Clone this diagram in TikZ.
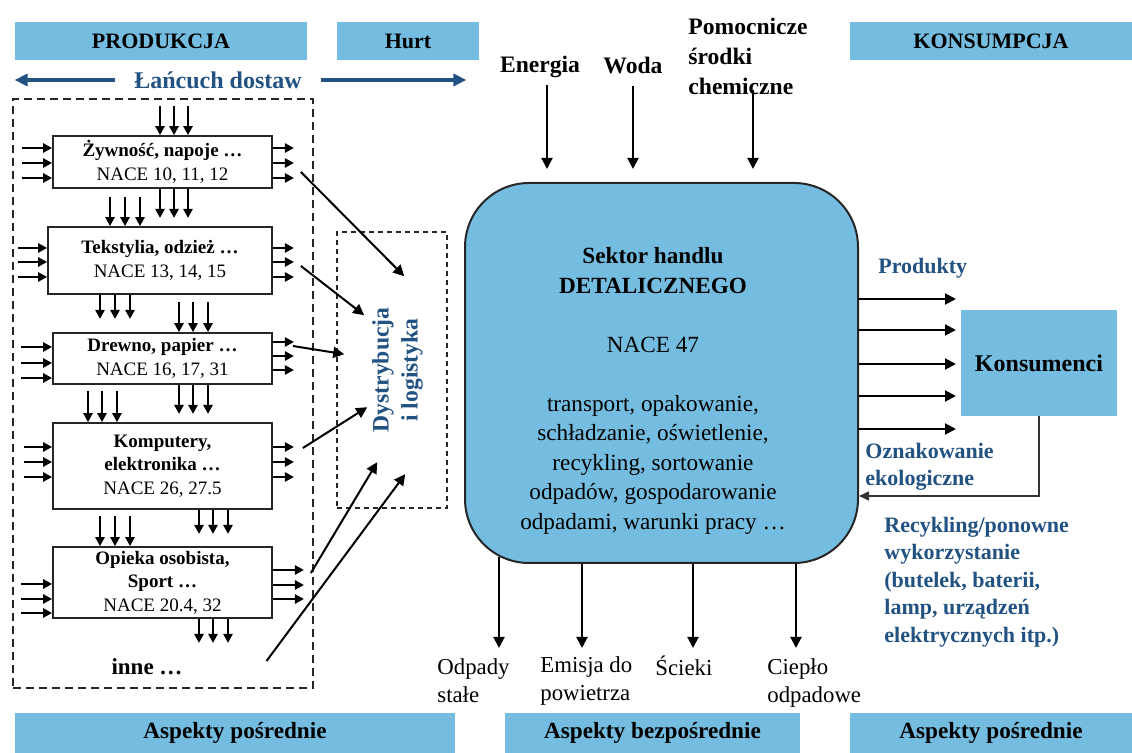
\documentclass[tikz,border=0pt]{standalone}
\usepackage{fontspec}
\setmainfont{Liberation Serif}
\usetikzlibrary{arrows.meta,calc}

\definecolor{barblue}{RGB}{116,189,224}
\definecolor{textblue}{RGB}{33,82,130}

\newcommand*{\HeadFont}{\fontsize{11}{13}\selectfont\bfseries}
\newcommand*{\FootFont}{\fontsize{11.6}{14}\selectfont\bfseries}
\newcommand*{\ChainFont}{\fontsize{12}{14}\selectfont\bfseries}
\newcommand*{\BoxFont}{\fontsize{9.5}{11.75}\selectfont}
\newcommand*{\InneFont}{\fontsize{11.5}{14}\selectfont\bfseries}
\newcommand*{\DystFont}{\fontsize{11.8}{14.5}\selectfont\bfseries}
\newcommand*{\MainFont}{\fontsize{11.6}{14.75}\selectfont}
\newcommand*{\TopFont}{\fontsize{11.8}{15}\selectfont\bfseries}
\newcommand*{\NoteFont}{\fontsize{11}{13.75}\selectfont\bfseries}
\newcommand*{\KonsFont}{\fontsize{12}{14}\selectfont\bfseries}
\newcommand*{\OutFont}{\fontsize{11.4}{14}\selectfont}

\newcommand*{\DrawTopArrows}[3]{%
    % #1 = box node
    % #2 = x positions as CSV
    % #3 = arrow length
    \foreach \X in {#2} {
        \draw [stub] (\X,0 |- #1.north) ++(0,-#3) -- (\X,0 |- #1.north);
    }
}
\newcommand*{\DrawBottomArrows}[3]{%
    % #1 = box node
    % #2 = x positions as CSV
    % #3 = arrow length
    \foreach \X in {#2} {
        \draw [stub] (\X,0 |- #1.south) -- ++(0,#3);
    }
}
\newcommand*{\DrawLeftArrows}[3]{%
    % #1 = box node
    % #2 = y positions as CSV
    % #3 = arrow length
    \foreach \Y in {#2} {
        \draw [stub] (#1.west |- 0,\Y) ++(-#3,0) -- (#1.west |- 0,\Y);
    }
}
\newcommand*{\DrawRightArrows}[3]{%
    % #1 = box node
    % #2 = y positions as CSV
    % #3 = arrow length
    \foreach \Y in {#2} {
        \draw [stub] (#1.east |- 0,\Y) -- ++(#3,0);
    }
}

\begin{document}
\begin{tikzpicture}[x=0.5pt, y=-0.5pt,
    bar/.style={fill=barblue, minimum height=19pt, inner sep=0pt, font=\HeadFont},
    sector/.style={draw=black!85, line width=0.9pt, inner sep=0pt, align=center,
        font=\BoxFont, minimum width=109.5pt},
    stub/.style={-{Triangle[length=4.5pt,width=4.6pt]}, line width=1.05pt},
    flow/.style={-{Triangle[length=5.5pt,width=5.5pt]}, line width=1pt},
    chain/.style={textblue, line width=1.6pt, -{Triangle[length=6.5pt,width=6pt]}},
    note/.style={textblue, font=\NoteFont, align=left, inner xsep=0pt}]

    \useasboundingbox (0,0) rectangle (1132,753);

    % header bars
    \node[bar, minimum width=146pt] (produkcja) at (161,41) {PRODUKCJA};
    \node[bar, minimum width=71pt] (hurt) at (408,41) {Hurt};
    \node[bar, minimum width=141pt] (konsumpcja) at (991,41) {KONSUMPCJA};

    % supply chain
    \node[textblue, font=\ChainFont] (chain) at (218,80) {Łańcuch dostaw};
    \draw[chain] ([xshift=-6pt]chain.west) -- (produkcja.west |- chain);
    \draw[chain, shorten >=6.5pt] ([xshift=6pt]chain.east) -- (hurt.east |- chain);

    % production sectors
    \node[draw=black!85, dash pattern=on 4pt off 2.5pt, line width=0.9pt,
        minimum width=150pt, minimum height=294.5pt] (prodarea) at (163,393.5) {};

    \node[sector, minimum height=26pt] (b1) at (162.5,162)
        {\textbf{Żywność, napoje …}\\NACE 10, 11, 12};
    \node[sector, minimum width=112pt, minimum height=33.5pt] (b2) at (160,260.5)
        {\textbf{Tekstylia, odzież …}\\NACE 13, 14, 15};
    \node[sector, minimum height=25.5pt] (b3) at (162.5,358.5)
        {\textbf{Drewno, papier …}\\NACE 16, 17, 31};
    \node[sector, minimum height=43pt] (b4) at (162.5,466)
        {\textbf{Komputery,}\\\textbf{elektronika …}\\NACE 26, 27.5};
    \node[sector, minimum height=35.5pt] (b5) at (162.5,582.5)
        {\textbf{Opieka osobista,}\\\textbf{Sport …}\\NACE 20.4, 32};
    \node[font=\InneFont] (inne) at (147,667) {inne …};

    \DrawTopArrows{b1}{160,174,188}{29}
    \DrawBottomArrows{b1}{160,174,188}{29}
    \DrawLeftArrows{b1}{148,163,178}{30}
    \DrawRightArrows{b1}{148,163,178}{21}

    \DrawTopArrows{b2}{110,125,140}{29}
    \DrawBottomArrows{b2}{100,115,130}{24}
    \DrawLeftArrows{b2}{248,262,277}{29}
    \DrawRightArrows{b2}{248,262,277}{21}

    \DrawTopArrows{b3}{179,193,208}{30}
    \DrawBottomArrows{b3}{179,193,208}{29}
    \DrawLeftArrows{b3}{347,363,378}{31}
    \DrawRightArrows{b3}{342,356,370}{21}

    \DrawTopArrows{b4}{88,102,117}{31}
    \DrawBottomArrows{b4}{199,213,228}{24}
    \DrawLeftArrows{b4}{447,462,477}{28}
    \DrawRightArrows{b4}{447,462,477}{21}

    \DrawTopArrows{b5}{100,115,130}{30}
    \DrawBottomArrows{b5}{199,213,228}{24}
    \DrawLeftArrows{b5}{584,599,613}{31}
    \DrawRightArrows{b5}{570,585,599}{31}

    % distribution
    \node[draw=black!85, dash pattern=on 2.5pt off 2pt, line width=0.8pt,
        minimum width=55pt, minimum height=138pt] (dyst) at (392,370) {};
    \node[rotate=90, textblue, font=\DystFont, align=center] (dystlabel) at (397.5,370)
        {Dystrybucja\\i logistyka};

    \draw[flow] ($(b1.east)+(28,10)$) -- ($(dyst.north west)+(68,45)$);
    \draw[flow] ($(b2.east)+(28,5.5)$) -- ($(dyst.north west)+(28,84)$);
    \draw[flow] ($(b3.east)+(20,-12.5)$) -- ($(dyst.north west)+(8,123)$);
    \draw[flow] ($(b4.east)+(30,-18)$) -- ($(dyst.north west)+(31,176)$);
    \draw[flow] ($(b5.east)+(38,-9.5)$) -- ($(dyst.north west)+(41,231)$);
    \draw[flow] ($(inne.east)+(77,-6)$) -- ($(dyst.north west)+(69,243)$);

    % retail sector
    \node[draw=black!85, line width=1pt, fill=barblue, rounded corners=32pt,
        minimum width=196.5pt, minimum height=190pt] (sektor) at (661.5,373) {};
    \node[align=center, font=\MainFont] (sektorlabel) at (653,391)
        {\textbf{Sektor handlu}\\\textbf{DETALICZNEGO}\\[14.75pt]NACE 47\\[14.75pt]%
        transport, opakowanie,\\schładzanie, oświetlenie,\\recykling, sortowanie\\%
        odpadów, gospodarowanie\\odpadami, warunki pracy …};

    % inputs
    \node[font=\TopFont] (energia) at (540,67) {Energia};
    \node[font=\TopFont] (woda) at (633,65) {Woda};
    \node[font=\TopFont, align=left, anchor=west, inner xsep=0pt] (pomoc) at (688,56)
        {Pomocnicze\\środki\\chemiczne};
    \draw[flow, shorten >=6.5pt] ([xshift=3.5pt]energia.south) -- ([xshift=3.5pt]energia.south |- sektor.north);
    \draw[flow, shorten <=3pt, shorten >=6.5pt] (woda.south) -- (woda.south |- sektor.north);
    \draw[flow] ($(pomoc.south west)+(65,-11)$) -- ($(pomoc.south west |- sektor.north)+(65,-13)$);

    % outputs
    \foreach \X/\Y in {35/-7,118/0,229/0,332/0} {
        \draw[flow] ($(sektor.south west)+(\X,\Y)$) -- ($(sektor.south west)+(\X,84)$);
    }
    \node[font=\OutFont, align=left, anchor=west, inner xsep=0pt] (odpady) at (437,681) {Odpady\\stałe};
    \node[font=\OutFont, align=left, anchor=west, inner xsep=0pt] (emisja) at (540,681) {Emisja do\\powietrza};
    \node[font=\OutFont, anchor=west, inner xsep=0pt] (scieki) at (655,666) {Ścieki};
    \node[font=\OutFont, align=left, anchor=west, inner xsep=0pt] (cieplo) at (767,683) {Ciepło\\odpadowe};

    % consumers
    \node[fill=barblue, minimum width=78pt, minimum height=53pt, font=\KonsFont] (kons) at (1039,363) {Konsumenci};
    \foreach \Y in {117,148,182,214,247} {
        \draw[flow] ($(sektor.north east)+(0,\Y)$) -- ++(97,0);
    }
    \draw[-{Triangle[length=5pt,width=4.5pt]}, line width=0.8pt, black!80]
        (kons.south) |- ($(sektor.north east)+(0,314)$);
    \node[note, anchor=west] (produkty) at (878,268) {Produkty};
    \node[note, anchor=west] (oznak) at (865,467) {Oznakowanie\\ekologiczne};
    \node[note, anchor=west] (recykling) at (884,582)
        {Recykling/ponowne\\wykorzystanie\\(butelek, baterii,\\lamp, urządzeń\\elektrycznych itp.)};

    % aspect bars
    \node[bar, minimum width=220pt, minimum height=20pt, font=\FootFont] (aspleft) at (235,733) {Aspekty pośrednie};
    \node[bar, minimum width=147.5pt, minimum height=20pt, font=\FootFont] (aspdirect) at (652.5,733) {Aspekty bezpośrednie};
    \node[bar, minimum width=141pt, minimum height=20pt, font=\FootFont] (aspright) at (991,733) {Aspekty pośrednie};
\end{tikzpicture}
\end{document}
